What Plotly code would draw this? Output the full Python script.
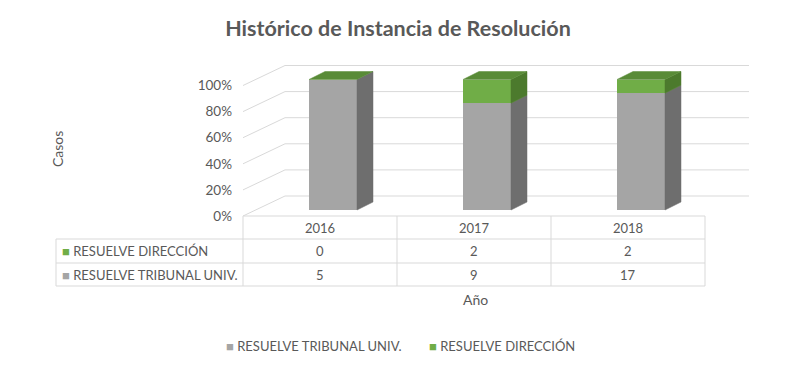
import plotly.graph_objects as go

# ---------------- data ----------------
years = ["2016", "2017", "2018"]
tribunal = [5, 9, 17]          # RESUELVE TRIBUNAL UNIV.
direccion = [0, 2, 2]          # RESUELVE DIRECCIÓN
name_trib = "RESUELVE TRIBUNAL UNIV."
name_dir = "RESUELVE DIRECCIÓN"
pct_ticks = [0, 0.2, 0.4, 0.6, 0.8, 1.0]

# ---------------- style ----------------
W, H = 796, 371
FONT = "Lato"
TXT = "#595959"
GRID = "#D9D9D9"
GRAY, GRAY_SIDE = "#A5A5A5", "#6E6E6E"
GREEN, GREEN_SIDE, GREEN_TOP = "#70AD47", "#4C7A2D", "#598B37"

# plot-area pixel frame
PL, PR, PT, PB = 243, 760, 55, 216
CAT_PX = 154.0          # pixels per category
CAT0_PX = 333.0         # pixel centre of first bar
Y_PX = 130.5            # pixels per 100 %
BAR_BASE_PX = 210.0     # pixel of 0 % in the bar plane
BAR_W = 48 / CAT_PX
DEPTH_X, DEPTH_Y = 16 / CAT_PX, 8 / Y_PX          # bar depth
FRONT_DY = -(PB - BAR_BASE_PX) / Y_PX              # front plane vs bar plane
BACK_DY = (BAR_BASE_PX - 196) / Y_PX               # back wall vs bar plane
FRONT_X = (PL - CAT0_PX) / CAT_PX
BACK_X = (285 - CAT0_PX) / CAT_PX
BACK_END_X = (749 - CAT0_PX) / CAT_PX
TABLE_SHIFT = 13 / CAT_PX

totals = [a + b for a, b in zip(tribunal, direccion)]
p_trib = [a / t for a, t in zip(tribunal, totals)]
p_dir = [b / t for b, t in zip(direccion, totals)]
xs = list(range(len(years)))

fig = go.Figure()
shapes = []

# gridlines (front-plane diagonal + back wall), drawn below the bars
gl = dict(color=GRID, width=1)
for v in pct_ticks:
    shapes.append(dict(type="line", xref="x", yref="y", layer="below",
                       x0=FRONT_X, y0=v + FRONT_DY, x1=BACK_X, y1=v + BACK_DY, line=gl))
    shapes.append(dict(type="line", xref="x", yref="y", layer="below",
                       x0=BACK_X, y0=v + BACK_DY, x1=BACK_END_X, y1=v + BACK_DY, line=gl))

# front faces
fig.add_trace(go.Bar(x=xs, y=p_trib, width=BAR_W, marker=dict(color=GRAY, line=dict(width=0)),
                     name=name_trib, showlegend=False))
fig.add_trace(go.Bar(x=xs, y=p_dir, width=BAR_W, marker=dict(color=GREEN, line=dict(width=0)),
                     name=name_dir, showlegend=False))

# side and top faces
def poly(px, py, color):
    fig.add_trace(go.Scatter(x=px + [px[0]], y=py + [py[0]], mode="lines", fill="toself",
                             fillcolor=color, line=dict(color=color, width=0.5),
                             hoverinfo="skip", showlegend=False))

for i in xs:
    xr = i + BAR_W / 2
    xl = i - BAR_W / 2
    segs = [(0, p_trib[i], GRAY_SIDE), (p_trib[i], p_trib[i] + p_dir[i], GREEN_SIDE)]
    for b, t, c in segs:
        if t > b:
            poly([xr, xr + DEPTH_X, xr + DEPTH_X, xr], [b, b + DEPTH_Y, t + DEPTH_Y, t], c)
    top = p_trib[i] + p_dir[i]
    poly([xl, xl + DEPTH_X, xr + DEPTH_X, xr], [top, top + DEPTH_Y, top + DEPTH_Y, top], GREEN_TOP)

# invisible trace on the label axis (front plane)
fig.add_trace(go.Scatter(x=[xs[0]], y=[0], yaxis="y2", mode="markers",
                         marker=dict(opacity=0), hoverinfo="skip", showlegend=False))

x_range = [(PL - CAT0_PX) / CAT_PX, (PR - CAT0_PX) / CAT_PX]
y_range = [-(PB - BAR_BASE_PX) / Y_PX, (BAR_BASE_PX - PT) / Y_PX]
y2_range = [0, (PB - PT) / Y_PX]

def py2paper(p):
    return (PB - p) / (PB - PT)

def px2paper(p):
    return (p - PL) / (PR - PL)

# ---------------- data table ----------------
line = dict(color=GRID, width=1)
col_edges = [CAT0_PX + CAT_PX * (i - 0.5) - 13 for i in range(len(years) + 1)]
left_edge = 56
rows_px = [216, 239, 263, 286]
for k, ypx in enumerate(rows_px):
    x0 = col_edges[0] if k == 0 else left_edge
    shapes.append(dict(type="line", xref="paper", yref="paper", x0=px2paper(x0), x1=px2paper(col_edges[-1]),
                       y0=py2paper(ypx), y1=py2paper(ypx), line=line))
for cx in col_edges:
    shapes.append(dict(type="line", xref="paper", yref="paper", x0=px2paper(cx), x1=px2paper(cx),
                       y0=py2paper(rows_px[0]), y1=py2paper(rows_px[-1]), line=line))
shapes.append(dict(type="line", xref="paper", yref="paper", x0=px2paper(left_edge), x1=px2paper(left_edge),
                   y0=py2paper(rows_px[1]), y1=py2paper(rows_px[-1]), line=line))

ann = []
tf = dict(family=FONT, size=13, color=TXT)
row_mid = [(rows_px[k] + rows_px[k + 1]) / 2 for k in range(3)]
for i, yr in enumerate(years):
    cx = i - TABLE_SHIFT
    for k, txt in enumerate([yr, str(direccion[i]), str(tribunal[i])]):
        ann.append(dict(x=cx, y=py2paper(row_mid[k]), xref="x", yref="paper", text=txt,
                        xanchor="center", yanchor="middle", showarrow=False, font=tf))

def key(color, label):
    return f'<span style="color:{color}">■</span> {label}'

kf = dict(family=FONT, size=13, color=TXT)
ann.append(dict(x=px2paper(60), y=py2paper(row_mid[1]), xref="paper", yref="paper", xanchor="left",
                yanchor="middle", text=key(GREEN, name_dir), showarrow=False, font=kf))
ann.append(dict(x=px2paper(60), y=py2paper(row_mid[2]), xref="paper", yref="paper", xanchor="left",
                yanchor="middle", text=key(GRAY, name_trib), showarrow=False, font=kf))

# axis titles
ann.append(dict(x=px2paper(475), y=py2paper(299), xref="paper", yref="paper", text="Año",
                xanchor="center", yanchor="middle", showarrow=False, font=dict(family=FONT, size=14, color=TXT)))
ann.append(dict(x=px2paper(57), y=py2paper(149), xref="paper", yref="paper", text="Casos", textangle=-90,
                xanchor="center", yanchor="middle", showarrow=False, font=dict(family=FONT, size=14, color=TXT)))

# bottom legend
ann.append(dict(x=px2paper(224), y=py2paper(346), xref="paper", yref="paper", xanchor="left",
                yanchor="middle", text=key(GRAY, name_trib), showarrow=False, font=kf))
ann.append(dict(x=px2paper(427), y=py2paper(346), xref="paper", yref="paper", xanchor="left",
                yanchor="middle", text=key(GREEN, name_dir), showarrow=False, font=kf))

fig.update_layout(
    width=W, height=H,
    margin=dict(l=PL, r=W - PR, t=PT, b=H - PB, pad=0),
    paper_bgcolor="white", plot_bgcolor="white",
    barmode="stack",
    title=dict(text="<b>Histórico de Instancia de Resolución</b>", x=0.5, xref="container", xanchor="center",
               y=1 - 28 / H, yref="container", yanchor="middle",
               font=dict(family=FONT, size=21.5, color=TXT)),
    xaxis=dict(range=x_range, showgrid=False, zeroline=False, showticklabels=False, showline=False,
               fixedrange=True),
    yaxis=dict(range=y_range, showgrid=False, zeroline=False, showticklabels=False, showline=False,
               fixedrange=True),
    yaxis2=dict(range=y2_range, overlaying="y", side="left", tickvals=pct_ticks, tickformat=".0%",
                showgrid=False, zeroline=False, showline=False, ticks="", ticklabelstandoff=10,
                tickfont=dict(family=FONT, size=13.5, color=TXT), fixedrange=True),
    shapes=shapes, annotations=ann,
    showlegend=False,
)

fig.write_html("out.html", config={"displayModeBar": False},
               post_script="document.body.style.margin='0';")
